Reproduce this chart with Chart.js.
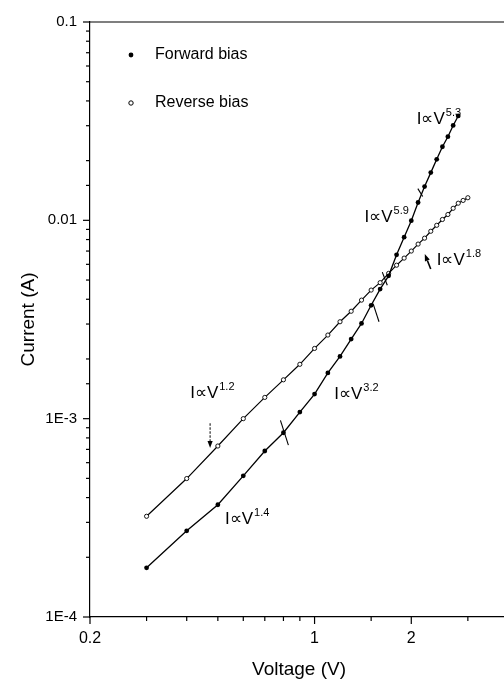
<!DOCTYPE html>
<html><head><meta charset="utf-8">
<style>html,body{margin:0;padding:0;overflow:hidden;background:#fff;width:504px;height:681px}canvas{display:block}</style>
<script src="https://cdn.jsdelivr.net/npm/chart.js@4"></script>
</head><body>
<canvas id="c" width="520" height="681" style="width:520px;height:681px"></canvas>
<script>
// ---- data ----
const forwardVoltage = [0.3,0.4,0.5,0.6,0.7,0.8,0.9,1.0,1.1,1.2,1.3,1.4,1.5,1.6,1.7,1.8,1.9,2.0,2.1,2.2,2.3,2.4,2.5,2.6,2.7,2.8];
const forwardCurrent = [1.77e-4,2.72e-4,3.68e-4,5.15e-4,6.87e-4,8.49e-4,1.08e-3,1.33e-3,1.70e-3,2.06e-3,2.52e-3,3.02e-3,3.73e-3,4.50e-3,5.25e-3,6.70e-3,8.22e-3,9.96e-3,1.23e-2,1.48e-2,1.74e-2,2.03e-2,2.35e-2,2.64e-2,3.01e-2,3.36e-2];
const reverseVoltage = [0.3,0.4,0.5,0.6,0.7,0.8,0.9,1.0,1.1,1.2,1.3,1.4,1.5,1.6,1.7,1.8,1.9,2.0,2.1,2.2,2.3,2.4,2.5,2.6,2.7,2.8,2.9,3.0];
const reverseCurrent = [3.22e-4,4.99e-4,7.28e-4,1.00e-3,1.28e-3,1.57e-3,1.88e-3,2.26e-3,2.64e-3,3.08e-3,3.48e-3,3.96e-3,4.45e-3,4.85e-3,5.40e-3,5.94e-3,6.45e-3,7.00e-3,7.59e-3,8.13e-3,8.81e-3,9.44e-3,1.01e-2,1.07e-2,1.15e-2,1.22e-2,1.26e-2,1.30e-2];
const seriesNames = ['Forward bias','Reverse bias'];
const xTickValues = [0.2, 1, 2];
const xTickText = ['0.2','1','2'];
const yTickValues = [1e-4, 1e-3, 1e-2, 1e-1];
const yTickText = ['1E-4','1E-3','0.01','0.1'];
const xTitle = 'Voltage (V)';
const yTitle = 'Current (A)';
// power-law annotations (anchor in data units)
const annExponent = ['5.3','5.9','1.8','3.2','1.2','1.4'];
const annVoltage  = [2.08, 1.43, 2.40, 1.152, 0.41, 0.5265];
const annCurrent  = [0.0306, 9.77e-3, 5.94e-3, 1.25e-3, 1.27e-3, 2.96e-4];
// short transition marks across curves: [v1,i1,v2,i2]
const markV1 = [0.783, 1.521, 2.096, 1.625];
const markI1 = [9.8e-4, 3.80e-3, 1.445e-2, 5.48e-3];
const markV2 = [0.829, 1.587, 2.171, 1.684];
const markI2 = [7.36e-4, 3.08e-3, 1.318e-2, 4.71e-3];
// arrows: from -> to (tip)
const arrowFromV = [0.473, 2.299];
const arrowFromI = [9.48e-4, 5.68e-3];
const arrowToV = [0.473, 2.203];
const arrowToI = [7.11e-4, 6.76e-3];
const arrowDashed = [true, false];

const FONT = '"Liberation Sans", Arial, sans-serif';
const isDecade = v => Math.abs(Math.log10(v) - Math.round(Math.log10(v))) < 1e-6;
const near = (a,b) => Math.abs(Math.log10(a) - Math.log10(b)) < 1e-6;

const decor = {
  id: 'decor',
  afterDraw(chart) {
    const ctx = chart.ctx, xs = chart.scales.x, ys = chart.scales.y, ca = chart.chartArea;
    ctx.save();
    ctx.strokeStyle = '#000'; ctx.fillStyle = '#000'; ctx.lineWidth = 1.2;
    // top frame line
    ctx.beginPath(); ctx.moveTo(ca.left, ca.top); ctx.lineTo(ca.right, ca.top); ctx.stroke();
    // x ticks
    xs.ticks.forEach(t => {
      const p = xs.getPixelForValue(t.value);
      const len = xTickValues.some(v => near(v, t.value)) ? 7 : 4;
      ctx.beginPath(); ctx.moveTo(p, ca.bottom); ctx.lineTo(p, ca.bottom + len); ctx.stroke();
    });
    ys.ticks.forEach(t => {
      const p = ys.getPixelForValue(t.value);
      const len = isDecade(t.value) ? 7 : 4;
      ctx.beginPath(); ctx.moveTo(ca.left, p); ctx.lineTo(ca.left - len, p); ctx.stroke();
    });
    // legend
    const lx = xs.getPixelForValue(0.2) + 41;
    ctx.beginPath(); ctx.arc(lx, ca.top + 33, 2.4, 0, Math.PI*2); ctx.fill();
    ctx.lineWidth = 1;
    ctx.beginPath(); ctx.arc(lx, ca.top + 81, 2.2, 0, Math.PI*2); ctx.stroke();
    ctx.font = '16px ' + FONT; ctx.textBaseline = 'middle'; ctx.textAlign = 'left';
    ctx.fillText(seriesNames[0], lx + 24, ca.top + 33);
    ctx.fillText(seriesNames[1], lx + 24, ca.top + 81);
    // annotations
    ctx.textBaseline = 'alphabetic';
    annExponent.forEach((e, i) => {
      const px = xs.getPixelForValue(annVoltage[i]), py = ys.getPixelForValue(annCurrent[i]);
      ctx.font = '17px ' + FONT;
      ctx.fillText('I\u221DV', px, py);
      const w = ctx.measureText('I\u221DV').width;
      ctx.font = '11px ' + FONT;
      ctx.fillText(e, px + w + 1, py - 8);
    });
    // transition marks
    ctx.lineWidth = 1.1;
    markV1.forEach((v, i) => {
      ctx.beginPath();
      ctx.moveTo(xs.getPixelForValue(v), ys.getPixelForValue(markI1[i]));
      ctx.lineTo(xs.getPixelForValue(markV2[i]), ys.getPixelForValue(markI2[i]));
      ctx.stroke();
    });
    // arrows
    arrowFromV.forEach((v, i) => {
      const x1 = xs.getPixelForValue(v), y1 = ys.getPixelForValue(arrowFromI[i]);
      const x2 = xs.getPixelForValue(arrowToV[i]), y2 = ys.getPixelForValue(arrowToI[i]);
      const a = Math.atan2(y2 - y1, x2 - x1), hl = 7, hw = 2.6;
      const bx = x2 - hl*Math.cos(a), by = y2 - hl*Math.sin(a);
      ctx.setLineDash(arrowDashed[i] ? [2.5, 1.5] : []);
      ctx.lineWidth = arrowDashed[i] ? 1 : 1.6;
      ctx.beginPath(); ctx.moveTo(x1, y1); ctx.lineTo(bx, by); ctx.stroke();
      ctx.setLineDash([]);
      ctx.beginPath(); ctx.moveTo(x2, y2);
      ctx.lineTo(bx + hw*Math.sin(a), by - hw*Math.cos(a));
      ctx.lineTo(bx - hw*Math.sin(a), by + hw*Math.cos(a));
      ctx.closePath(); ctx.fill();
    });
    ctx.restore();
  }
};

new Chart(document.getElementById('c'), {
  type: 'scatter',
  data: {
    datasets: [
      { label: seriesNames[0], data: forwardVoltage.map((v,i)=>({x:v,y:forwardCurrent[i]})),
        showLine: true, borderColor: '#000', borderWidth: 1.3, backgroundColor: '#000',
        pointRadius: 2.4, pointBorderWidth: 0, pointBackgroundColor: '#000', tension: 0 },
      { label: seriesNames[1], data: reverseVoltage.map((v,i)=>({x:v,y:reverseCurrent[i]})),
        showLine: true, borderColor: '#000', borderWidth: 1.2, backgroundColor: '#000',
        pointRadius: 2.1, pointBorderWidth: 0.9, pointBorderColor: '#000', pointBackgroundColor: '#fff', tension: 0 }
    ]
  },
  options: {
    responsive: false, animation: false, devicePixelRatio: 1,
    layout: { padding: { left: 0, top: 19, right: 10, bottom: 0 } },
    plugins: { legend: { display: false }, tooltip: { enabled: false } },
    scales: {
      x: {
        type: 'logarithmic', min: 0.2, max: 4,
        afterFit: s => { s.height = 64; },
        grid: { display: false, drawTicks: false, tickLength: 0 },
        border: { display: true, color: '#000', width: 1.2 },
        ticks: { autoSkip: false, maxRotation: 0, padding: 12, color: '#000',
          font: { family: FONT, size: 16 },
          callback: v => { const k = xTickValues.findIndex(t => near(t, v)); return k >= 0 ? xTickText[k] : ''; } },
        title: { display: true, text: xTitle, color: '#000', font: { family: FONT, size: 19 }, padding: { top: 0, bottom: 0 } }
      },
      y: {
        type: 'logarithmic', min: 1e-4, max: 0.1,
        afterFit: s => { s.width = 90; },
        grid: { display: false, drawTicks: false, tickLength: 0 },
        border: { display: true, color: '#000', width: 1.2 },
        ticks: { autoSkip: false, padding: 13, color: '#000',
          font: { family: FONT, size: 15 },
          callback: v => { const k = yTickValues.findIndex(t => near(t, v)); return k >= 0 ? yTickText[k] : ''; } },
        title: { display: true, text: yTitle, color: '#000', font: { family: FONT, size: 19 }, padding: { top: 17, bottom: 0 } }
      }
    }
  },
  plugins: [decor]
});
</script>
</body></html>
